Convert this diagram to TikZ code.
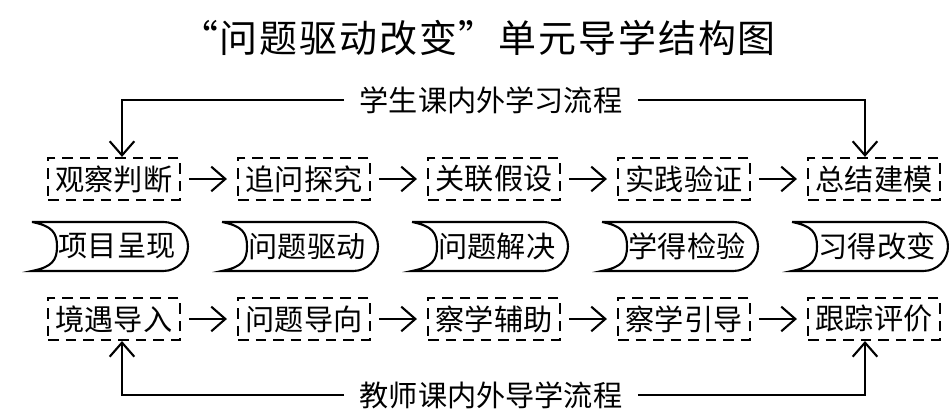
\documentclass[tikz,border=0pt]{standalone}
\usepackage{fontspec}
\newfontfamily\cjk{Noto Sans CJK SC}
\newfontfamily\cjkwide[LetterSpace=5]{Noto Sans CJK SC}
\usetikzlibrary{arrows.meta}

\tikzset{
    box/.style={draw, line width=0.6pt, dash pattern=on 3pt off 2pt, minimum width=1.32cm, minimum height=0.42cm, inner sep=0pt, font=\cjk\fontsize{8.3}{9}\selectfont},
    tab/.style={inner sep=0pt, font=\cjk\fontsize{8.3}{9}\selectfont},
    flowlabel/.style={inner sep=0.15cm, font=\cjk\fontsize{8.3}{9}\selectfont},
    flow/.style={-{Straight Barb[length=4pt,width=7pt]}, line width=0.6pt},
}

% outline of a tab around a named node
\newcommand\tabout[1]{%
    \draw[line width=0.6pt] ([shift={(-0.85,0.245)}]#1.center) -- ([shift={(0.465,0.245)}]#1.center)
        arc[start angle=90, end angle=-90, radius=0.245]
        -- ([shift={(-0.85,-0.245)}]#1.center)
        .. controls +(0.2,0.04) and +(0,-0.14) .. ([shift={(-0.6,0)}]#1.center)
        .. controls +(0,0.14) and +(0.2,-0.04) .. ([shift={(-0.85,0.245)}]#1.center);}

\begin{document}
\begin{tikzpicture}
            \useasboundingbox (0, 0) rectangle (9.49, 4.20);

            \node[font=\cjkwide\fontsize{10.8}{12}\selectfont] (title) at (4.78, 3.82) {“问题驱动改变”单元导学结构图};

            \node[box] (a1) at (1.14, 2.41) {观察判断};
            \node[box] (a2) at (3.04, 2.41) {追问探究};
            \node[box] (a3) at (4.94, 2.41) {关联假设};
            \node[box] (a4) at (6.84, 2.41) {实践验证};
            \node[box] (a5) at (8.74, 2.41) {总结建模};

            \node[tab] (b1) at (1.17, 1.735) {项目呈现};
            \node[tab] (b2) at (3.07, 1.735) {问题驱动};
            \node[tab] (b3) at (4.97, 1.735) {问题解决};
            \node[tab] (b4) at (6.87, 1.735) {学得检验};
            \node[tab] (b5) at (8.77, 1.735) {习得改变};

            \node[box] (c1) at (1.14, 1.01) {境遇导入};
            \node[box] (c2) at (3.04, 1.01) {问题导向};
            \node[box] (c3) at (4.94, 1.01) {察学辅助};
            \node[box] (c4) at (6.84, 1.01) {察学引导};
            \node[box] (c5) at (8.74, 1.01) {跟踪评价};

            \node[flowlabel] (top) at (4.91, 3.20) {学生课内外学习流程};
            \node[flowlabel] (bot) at (4.91, 0.25) {教师课内外导学流程};

            \tabout{b1}
            \tabout{b2}
            \tabout{b3}
            \tabout{b4}
            \tabout{b5}

            \draw[flow, shorten <=0.08cm, shorten >=0.1cm] (a1) -- (a2);
            \draw[flow, shorten <=0.08cm, shorten >=0.1cm] (a2) -- (a3);
            \draw[flow, shorten <=0.08cm, shorten >=0.1cm] (a3) -- (a4);
            \draw[flow, shorten <=0.08cm, shorten >=0.1cm] (a4) -- (a5);

            \draw[flow, shorten <=0.08cm, shorten >=0.1cm] (c1) -- (c2);
            \draw[flow, shorten <=0.08cm, shorten >=0.1cm] (c2) -- (c3);
            \draw[flow, shorten <=0.08cm, shorten >=0.1cm] (c3) -- (c4);
            \draw[flow, shorten <=0.08cm, shorten >=0.1cm] (c4) -- (c5);

            \draw[flow] (top.west) -| ([xshift=0.08cm]a1.north);
            \draw[flow] (top.east) -| ([xshift=-0.09cm]a5.north);
            \draw[flow] (bot.west) -| ([xshift=0.08cm]c1.south);
            \draw[flow] (bot.east) -| ([xshift=-0.09cm]c5.south);
\end{tikzpicture}
\end{document}
